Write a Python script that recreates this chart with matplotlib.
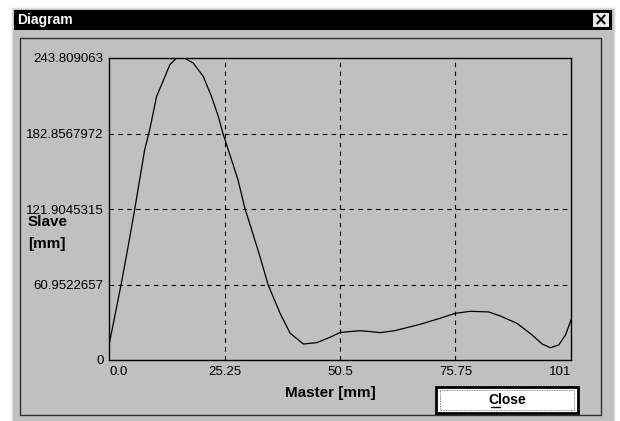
import matplotlib
matplotlib.use("Agg")
import matplotlib.pyplot as plt
from matplotlib.patches import Rectangle

# Data
master = [0, 1.3, 2.7, 4.2, 5.6, 6.7, 7.8, 8.9, 10.4, 11.8, 13.3, 14.7, 15.6, 16.6, 18.4,
          20.6, 22.4, 23.9, 24.9, 27.5, 28.2, 29.7, 31.2, 33.0, 34.8, 37.4, 39.6,
          42.5, 45.4, 48.3, 50.5, 54.9, 59.3, 62.5, 68.0, 72.4, 75.7, 79.0, 83.0,
          85.5, 89.2, 92.5, 94.7, 96.5, 98.3, 99.8, 101]
slave = [12.1, 36, 62, 92, 121.2, 145.5, 169.7, 185.9, 212.8, 224.9, 238.4, 243.5, 243.8,
         243.5, 239.8, 229, 212.8, 196.6, 183, 153.5, 145.5, 122.6, 105, 83.5, 60.6,
         37.7, 21.6, 12.9, 14, 18.3, 22.2, 23.7, 22.1, 23.7, 28.8, 33.7, 37.7, 39.3,
         38.8, 35.6, 29.6, 20.2, 12.9, 9.9, 12.1, 20.2, 32.3]
yticks = [0, 60.9522657, 121.9045315, 182.8567972, 243.809063]
ytick_labels = ["0", "60.9522657", "121.9045315", "182.8567972", "243.809063"]
xticks = [0, 25.25, 50.5, 75.75, 101]
xtick_labels = ["0.0", "25.25", "50.5", "75.75", "101"]

W, H = 620, 421
fig = plt.figure(figsize=(W / 100, H / 100), dpi=100)
fig.patch.set_facecolor("white")
font = ["Liberation Sans", "DejaVu Sans"]
bold_font = ["Liberation Sans", "DejaVu Sans"]

bg = fig.add_axes([0, 0, 1, 1])
bg.set_xlim(0, W)
bg.set_ylim(H, 0)
bg.axis("off")

# window
bg.add_patch(Rectangle((12, 8), 602, 420, facecolor="#c0c0c0", edgecolor="#dcdcdc", lw=1))
bg.add_patch(Rectangle((14, 10), 598, 20, facecolor="black", edgecolor="none"))
bg.text(17, 20, "Diagram", color="white", fontsize=10, fontweight="bold",
        family=bold_font, va="center", ha="left")
bg.add_patch(Rectangle((593, 13), 16, 14, facecolor="#e8e8e8", edgecolor="none"))
bg.text(601, 20.5, "×", color="black", fontsize=12, fontweight="bold",
        family=["DejaVu Sans"], va="center", ha="center")
# inner panel
bg.add_patch(Rectangle((20, 38), 581, 377, facecolor="#c0c0c0", edgecolor="#303030", lw=1))

# Close button
bg.add_patch(Rectangle((436, 387), 142, 26, facecolor="white", edgecolor="black", lw=2))
bg.add_patch(Rectangle((440, 390), 134, 20, facecolor="none", edgecolor="#606060",
                       lw=0.6, linestyle=(0, (1, 1))))
bg.text(507, 400, "Close", fontsize=10, fontweight="bold",
        family=bold_font, va="center", ha="center")
bg.plot([491, 500], [407, 407], color="black", lw=1)

# axis labels
bg.text(330, 393, "Master [mm]", fontsize=11, fontweight="bold",
        family=bold_font, va="center", ha="center")
bg.text(28, 222, "Slave", fontsize=11, fontweight="bold",
        family=bold_font, va="center", ha="left")
bg.text(28, 244, "[mm]", fontsize=11, fontweight="bold",
        family=bold_font, va="center", ha="left")

# main plot
x0, x1, y0, y1 = 109, 571, 58, 360
ax = fig.add_axes([x0 / W, 1 - y1 / H, (x1 - x0) / W, (y1 - y0) / H])
ax.set_facecolor("#c0c0c0")
ax.set_xlim(0, 101)
ax.set_ylim(0, 243.809063)
ax.plot(master, slave, color="black", lw=0.9)
ax.set_yticks(yticks)
ax.set_yticklabels(ytick_labels, family=font, fontsize=9.5)
ax.set_xticks(xticks)
ax.set_xticklabels(xtick_labels, family=font, fontsize=9.5)
ax.tick_params(length=0, pad=4)
labs = ax.get_xticklabels()
labs[0].set_ha("left")
labs[-1].set_ha("right")
for y in yticks[1:-1]:
    ax.axhline(y, color="black", lw=0.8, ls=(0, (4, 4)))
for x in xticks[1:-1]:
    ax.axvline(x, color="black", lw=0.8, ls=(0, (4, 4)))
for s in ax.spines.values():
    s.set_color("black")
    s.set_linewidth(1)

fig.savefig("out.png", dpi=100, facecolor=fig.get_facecolor())
